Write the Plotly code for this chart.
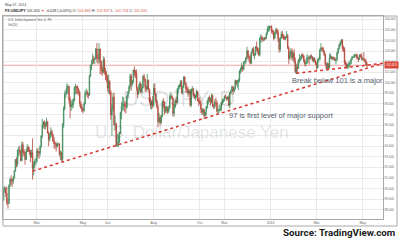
import pandas as pd
import plotly.graph_objects as go

# ---------------- data (daily USD/JPY, 17 Jan 2013 .. 07 May 2014) ----------------
first_open = 88.95
closes = [
    89.95, 90.05, 89.55, 88.70, 88.60, 90.30, 90.85, 90.80, 90.70, 91.05, 91.70,
    92.75, 92.30, 93.60, 93.60, 93.55, 92.65, 94.15, 93.45, 93.35, 92.75, 93.50, 93.90, 93.55, 93.50, 93.05, 93.40, 91.90, 92.15, 92.55, 92.55,
    93.55, 93.45, 93.35, 93.95, 94.95, 96.00, 96.25, 95.90, 96.05, 96.30, 95.25, 94.65, 95.10, 95.40, 95.10, 94.50, 94.25, 94.25, 94.00, 94.20, 94.20,
    93.25, 93.35, 92.75, 96.05, 97.55, 98.95, 98.95, 99.60, 99.65, 98.40, 97.75, 97.90, 98.00, 98.30, 99.55, 99.65, 99.60, 99.40, 99.10, 98.05, 97.65, 97.40,
    97.35, 98.00, 99.00, 99.10, 98.95, 98.85, 100.60, 101.60, 101.80, 102.25, 102.20, 102.25, 103.20, 102.35, 102.30, 103.20, 101.95, 101.25, 101.00, 102.15, 101.10, 100.75, 100.45,
    99.50, 100.10, 99.10, 96.95, 97.55, 98.65, 96.05, 96.10, 94.05, 94.15, 94.40, 95.25, 97.20, 97.80, 97.90, 98.00, 97.80, 97.70, 98.70, 99.15,
    99.60, 100.65, 99.85, 100.15, 101.20, 101.00, 100.90, 99.55, 98.95, 99.25, 99.90, 99.10, 99.55, 100.60, 100.35, 99.60, 99.40, 100.25, 99.40, 98.25, 97.90, 98.15, 97.85,
    99.50, 98.95, 98.30, 97.75, 96.30, 96.70, 96.25, 96.80, 98.20, 98.15, 97.30, 97.55, 97.65, 97.30, 97.60, 98.70, 98.75, 98.55, 97.10, 97.70, 98.30, 98.15,
    99.40, 99.60, 99.70, 100.10, 99.10, 99.60, 100.55, 100.00, 99.40, 99.40, 99.00, 99.25, 97.90, 99.40, 99.40, 98.80, 98.60, 98.75, 99.15, 98.30, 98.30,
    98.05, 97.55, 97.20, 97.45, 96.90, 97.20, 97.70, 98.25, 98.60, 98.50, 98.15, 98.80, 97.80, 97.75, 98.15, 98.10, 97.30, 97.40, 97.40, 97.50, 98.10, 98.30, 98.35,
    98.70, 98.60, 98.50, 98.65, 97.90, 99.05, 99.20, 99.60, 99.20, 99.40, 100.20, 99.95, 100.20, 100.20, 101.10, 101.30, 101.55, 101.30, 101.95, 102.00, 102.40,
    103.00, 102.40, 102.40, 101.85, 102.90, 103.20, 102.60, 102.70, 103.40, 103.25, 103.05, 102.65, 104.20, 104.30, 104.10, 104.05, 104.25, 104.20, 104.65, 105.05, 105.05, 105.30,
    105.25, 104.85, 104.85, 104.20, 104.65, 105.00, 104.80, 104.15, 103.15, 104.20, 104.60, 104.35, 104.25, 104.20, 104.30, 104.45, 103.30, 102.30, 102.70, 103.00, 102.35, 102.80, 102.05,
    101.05, 101.50, 101.40, 102.10, 102.30, 102.30, 102.65, 102.55, 102.10, 101.80, 101.85, 102.35, 102.40, 102.30, 102.55, 102.45, 102.15, 102.35, 102.05, 101.80,
    101.40, 102.20, 102.20, 103.10, 103.30, 103.25, 103.00, 102.65, 101.75, 101.35, 101.80, 101.40, 102.35, 102.45, 102.25, 102.35, 102.30, 102.10, 102.20, 102.80, 103.20,
    103.60, 103.80, 104.05, 103.30, 103.20, 101.90, 101.80, 101.50, 101.60, 101.80, 101.80, 102.20, 102.40, 102.40, 102.60, 102.60, 102.50, 102.30, 102.20, 102.60, 102.50, 102.25,
    102.30, 102.20, 102.10, 101.70, 101.655,
]
highs = [
    90.15, 90.25, 90.10, 90.20, 89.10, 90.40, 91.05, 91.25, 90.95, 91.20, 91.75,
    92.80, 92.95, 93.75, 93.95, 94.05, 93.70, 94.45, 94.40, 93.75, 93.55, 93.75, 94.20, 94.05, 93.90, 93.65, 93.70, 94.75, 92.55, 92.80, 92.90,
    93.80, 93.85, 93.55, 94.10, 95.05, 96.60, 96.40, 96.45, 96.30, 96.70, 96.40, 95.40, 95.25, 95.80, 95.55, 95.20, 94.85, 94.45, 94.30, 94.45, 94.30,
    94.30, 93.60, 93.50, 96.20, 97.80, 99.20, 99.40, 99.95, 99.85, 99.70, 98.70, 98.30, 98.45, 98.55, 99.65, 99.90, 99.70, 99.75, 99.45, 99.20, 98.25, 97.95,
    97.70, 98.20, 99.30, 99.45, 99.30, 99.05, 100.75, 101.70, 102.15, 102.75, 102.55, 102.40, 103.30, 103.75, 102.70, 103.75, 103.20, 102.10, 101.55, 102.50, 102.40, 101.40, 101.10,
    100.70, 100.80, 100.25, 99.30, 98.00, 99.00, 99.10, 96.90, 96.25, 95.20, 95.15, 95.35, 97.25, 98.20, 98.70, 98.65, 98.25, 98.15, 98.85, 99.20,
    99.80, 100.85, 100.85, 100.25, 101.25, 101.55, 101.20, 101.25, 99.60, 99.85, 100.15, 100.05, 99.80, 100.70, 100.85, 100.40, 99.75, 100.85, 100.30, 99.45, 98.65, 98.35, 98.75,
    99.90, 99.95, 98.95, 98.35, 97.80, 97.15, 96.95, 96.95, 98.35, 98.55, 98.25, 97.80, 97.85, 97.75, 97.85, 98.90, 99.15, 98.85, 98.60, 97.95, 98.50, 98.70,
    99.50, 99.80, 99.90, 100.25, 100.25, 99.75, 100.60, 100.60, 100.00, 99.75, 99.60, 99.35, 99.40, 99.45, 99.70, 99.50, 99.00, 98.90, 99.35, 99.25, 98.55,
    98.65, 98.35, 97.65, 97.60, 97.55, 97.25, 97.80, 98.40, 98.65, 98.80, 98.60, 99.00, 98.90, 98.00, 98.45, 98.60, 98.35, 97.60, 97.95, 97.85, 98.20, 98.50, 98.50,
    98.80, 98.90, 98.65, 98.75, 98.85, 99.10, 99.35, 99.75, 99.70, 99.55, 100.30, 100.25, 100.25, 100.40, 101.20, 101.45, 101.90, 101.65, 102.05, 102.10, 102.45,
    103.40, 103.10, 102.55, 102.70, 102.95, 103.30, 103.40, 102.80, 103.45, 103.90, 103.40, 103.25, 104.35, 104.60, 104.45, 104.20, 104.35, 104.30, 104.75, 105.35, 105.40, 105.40,
    105.35, 105.45, 105.05, 104.95, 104.80, 105.20, 105.15, 105.00, 104.20, 104.35, 104.85, 104.90, 104.60, 104.45, 104.40, 104.90, 104.60, 103.45, 102.95, 103.25, 103.25, 102.95, 103.20,
    102.40, 101.80, 101.85, 102.25, 102.70, 102.55, 102.75, 102.80, 102.60, 102.30, 102.05, 102.70, 102.60, 102.50, 102.60, 102.70, 102.50, 102.40, 102.35, 102.15,
    101.95, 102.30, 102.45, 103.20, 103.75, 103.35, 103.40, 103.05, 102.80, 101.90, 101.95, 101.85, 102.70, 102.80, 102.55, 102.50, 102.45, 102.45, 102.30, 102.95, 103.30,
    103.70, 103.95, 104.10, 104.15, 103.50, 103.35, 102.10, 101.90, 101.80, 102.00, 102.10, 102.30, 102.55, 102.55, 102.70, 102.75, 102.75, 102.70, 102.40, 102.70, 102.75, 102.75,
    102.40, 102.90, 102.30, 102.20, 101.95,
]
lows = [
    88.80, 89.60, 89.20, 88.45, 88.10, 88.55, 90.10, 90.35, 90.15, 90.45, 90.90,
    91.60, 92.00, 92.10, 93.00, 93.20, 92.55, 92.60, 93.05, 93.10, 92.25, 92.70, 93.45, 93.45, 93.20, 92.50, 92.90, 90.85, 91.25, 91.90, 92.25,
    92.45, 92.95, 92.80, 93.05, 93.85, 94.75, 95.70, 95.60, 95.60, 95.85, 95.20, 94.00, 94.45, 94.80, 94.90, 94.40, 93.80, 93.75, 93.50, 93.85, 94.10,
    93.05, 92.70, 92.60, 92.55, 95.75, 97.40, 98.55, 98.90, 99.05, 98.05, 96.65, 97.35, 97.55, 97.65, 98.20, 98.90, 98.95, 98.90, 98.80, 97.75, 97.55, 97.25,
    97.10, 97.30, 97.95, 98.80, 98.60, 98.50, 98.75, 100.55, 101.20, 101.75, 101.80, 101.75, 102.20, 101.90, 101.75, 101.85, 100.80, 100.80, 100.65, 100.90, 100.80, 100.25, 100.05,
    99.15, 98.95, 98.85, 96.50, 94.95, 97.30, 95.90, 95.50, 93.95, 94.00, 93.90, 94.30, 95.15, 96.55, 97.35, 97.40, 97.20, 97.10, 97.55, 98.45,
    98.95, 99.40, 99.25, 99.65, 99.95, 100.60, 100.45, 99.25, 98.55, 98.85, 99.20, 99.00, 99.05, 99.45, 100.05, 99.20, 99.10, 99.30, 99.20, 98.05, 97.55, 97.45, 97.60,
    97.75, 98.80, 98.10, 97.55, 95.80, 96.15, 95.95, 96.10, 96.75, 97.60, 96.95, 97.15, 97.15, 97.05, 97.15, 97.55, 98.40, 98.45, 96.80, 96.80, 97.60, 97.95,
    98.10, 99.05, 99.40, 99.60, 98.95, 98.90, 99.50, 99.80, 99.10, 99.05, 98.65, 98.85, 97.75, 97.70, 99.10, 98.70, 98.45, 98.30, 98.55, 98.20, 97.80,
    97.95, 97.15, 96.95, 96.95, 96.55, 96.60, 96.90, 97.55, 97.95, 98.15, 97.90, 98.05, 97.70, 97.50, 97.55, 97.80, 97.15, 96.95, 97.15, 97.35, 97.30, 97.90, 98.10,
    98.25, 98.50, 98.30, 98.35, 97.75, 97.60, 98.95, 99.15, 98.85, 99.05, 99.35, 99.75, 99.55, 99.30, 100.05, 100.85, 101.05, 101.05, 101.20, 101.70, 101.80,
    102.25, 102.15, 101.95, 101.75, 101.75, 102.80, 102.50, 102.20, 102.55, 102.95, 102.70, 102.50, 102.50, 103.75, 103.90, 103.90, 103.95, 104.05, 104.15, 104.55, 104.80, 104.90,
    105.20, 104.65, 104.55, 104.00, 104.15, 104.55, 104.60, 103.85, 102.85, 102.90, 104.15, 104.20, 104.05, 104.05, 104.00, 104.20, 103.20, 101.75, 102.15, 102.45, 102.10, 102.10, 101.85,
    100.90, 100.80, 100.85, 101.30, 101.85, 102.05, 102.20, 102.35, 101.90, 101.55, 101.55, 101.80, 101.95, 101.70, 102.15, 102.30, 102.00, 101.90, 101.95, 101.70,
    101.20, 101.35, 101.95, 102.15, 102.95, 102.95, 102.85, 102.55, 101.65, 101.20, 101.25, 101.30, 101.35, 102.25, 102.20, 102.10, 102.15, 102.05, 101.75, 102.05, 102.75,
    103.15, 103.40, 103.60, 103.00, 102.90, 101.70, 101.40, 101.35, 101.30, 101.35, 101.50, 101.75, 102.15, 102.35, 102.35, 102.45, 102.30, 102.20, 101.95, 102.15, 102.40, 102.10,
    102.10, 102.00, 101.90, 101.60, 101.45,
]
opens = [first_open] + closes[:-1]

dates = pd.bdate_range("2013-01-17", "2014-05-07")
n = min(len(dates), len(closes), len(highs), len(lows))
dates = dates[:n]

chart_start = "2013-01-16 09:36"
chart_end = "2014-05-27 21:36"

tick_dates = ["2013-03-01", "2013-05-01", "2013-06-03", "2013-08-01", "2013-10-01",
              "2013-11-01", "2014-01-01", "2014-03-03", "2014-05-01"]
tick_text = ["Mar", "May", "Jun", "Aug", "Oct", "Nov", "2014", "Mar", "May"]

support_dates = ["2013-02-25", chart_end]
support_prices = [91.65, 101.84]
break_dates = ["2014-02-04", chart_end]
break_prices = [100.90, 101.84]

last_price = closes[-1]

# ---------------- figure ----------------
fig = go.Figure()
fig.add_trace(go.Candlestick(
    x=dates, open=opens[:n], high=highs[:n], low=lows[:n], close=closes[:n],
    increasing=dict(line=dict(color="#3f8b5b", width=0.8), fillcolor="#6ba583"),
    decreasing=dict(line=dict(color="#b2463a", width=0.8), fillcolor="#d75442"),
    whiskerwidth=0, hoverinfo="skip",
))
for xs, ys in ((support_dates, support_prices), (break_dates, break_prices)):
    fig.add_trace(go.Scatter(x=xs, y=ys, mode="lines",
                             line=dict(color="#d8342c", width=1.5, dash="dot"),
                             hoverinfo="skip"))

PW, PH = 380.0, 203.0  # plot area size in px
def px(xp):
    return (xp - 3) / PW
def py(yp):
    return (219 - yp) / PH

grey = "#a9a9a9"
shapes = [
    dict(type="line", xref="paper", yref="y", x0=0, x1=1, y0=last_price, y1=last_price,
         line=dict(color="#efa3a3", width=1), layer="below"),
    dict(type="rect", xref="paper", yref="paper", x0=0, x1=px(397), y0=py(226), y1=1,
         line=dict(color=grey, width=1)),
]

base_font = "Liberation Sans, Arial, sans-serif"
wm = "rgba(0,0,0,0.12)"
ann = [
    dict(text="USDJPY, D", x=px(179), y=py(99), font=dict(size=22, color=wm, family=base_font)),
    dict(text="U.S. Dollar/Japanese Yen", x=px(192), y=py(132), font=dict(size=17, color=wm, family=base_font)),
    dict(text="Break below 101 is a major", x=px(290), y=py(80.7), xanchor="left",
         font=dict(size=7.5, color="#56616e", family=base_font)),
    dict(text="97 is first level of major support", x=px(227), y=py(116), xanchor="left",
         font=dict(size=7.5, color="#56616e", family=base_font)),
    dict(text="<b>Source: TradingView.com</b>", x=px(397), y=py(232), xanchor="right",
         font=dict(size=9.8, color="#1a1a1a", family="Liberation Sans Narrow, Roboto, sans-serif")),
    dict(text="May 07, 2014", x=px(3), y=py(5), xanchor="left",
         font=dict(size=3.5, color="#444", family=base_font)),
    dict(text=("<b>FX:USDJPY</b> 101.655 <span style='color:#d75442'>▼</span> -0.028 (-0.03%) "
               "O: <span style='color:#d75442'>101.683</span> H: <span style='color:#d75442'>101.947</span> "
               "L: <span style='color:#d75442'>101.754</span> C: <span style='color:#d75442'>101.655</span>"),
         x=px(3), y=py(11.5), xanchor="left", font=dict(size=3.7, color="#222", family=base_font)),
    dict(text="U.S. Dollar/Japanese Yen, D, FX", x=px(6), y=py(20), xanchor="left",
         font=dict(size=3, color="#555", family=base_font)),
    dict(text="Vol(20)", x=px(6), y=py(24.5), xanchor="left",
         font=dict(size=3, color="#555", family=base_font)),
    dict(text=f"{last_price:.3f}", x=px(384), y=last_price, yref="y", xanchor="left",
         bgcolor="#d9473a", borderpad=1, font=dict(size=3, color="white", family=base_font)),
]
for a in ann:
    a.setdefault("xref", "paper")
    a.setdefault("yref", "paper")
    a.setdefault("showarrow", False)
    a.setdefault("yanchor", "middle")
    a.setdefault("xanchor", "center")

fig.update_layout(
    width=400, height=241,
    margin=dict(l=3, r=17, t=16, b=22),
    paper_bgcolor="white", plot_bgcolor="white",
    showlegend=False,
    shapes=shapes, annotations=ann,
    xaxis=dict(type="date", range=[chart_start, chart_end],
               rangebreaks=[dict(bounds=["sat", "mon"])],
               rangeslider=dict(visible=False),
               tickvals=tick_dates, ticktext=tick_text,
               showgrid=True, gridcolor="#ebebeb", gridwidth=1,
               tickfont=dict(size=3.5, color="#666", family=base_font),
               ticks="", showline=True, linecolor=grey, mirror=True, zeroline=False),
    yaxis=dict(side="right", range=[87.125, 106.31], dtick=1, tick0=0, tickformat=".3f",
               showgrid=True, gridcolor="#ebebeb", gridwidth=1,
               tickfont=dict(size=3, color="#666", family=base_font),
               ticks="", showline=True, linecolor=grey, mirror=True, zeroline=False),
)

fig.write_html("out.html")
